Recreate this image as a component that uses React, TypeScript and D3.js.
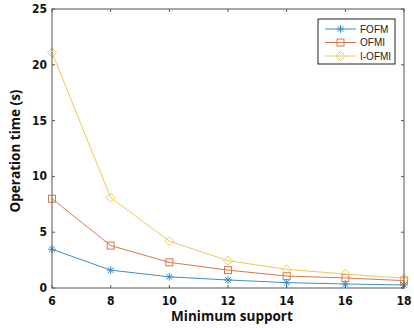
import React from "react";
import * as d3 from "d3";

const support = [6, 8, 10, 12, 14, 16, 18];
const fofm = [3.47, 1.6, 1.0, 0.72, 0.48, 0.36, 0.27];
const ofmi = [8.0, 3.8, 2.3, 1.6, 1.07, 0.9, 0.66];
const iofmi = [21.1, 8.1, 4.2, 2.45, 1.67, 1.25, 0.87];
const xTicks = [6, 8, 10, 12, 14, 16, 18];
const yTicks = [0, 5, 10, 15, 20, 25];
const seriesNames = ["FOFM", "OFMI", "I-OFMI"];

const W = 414, H = 328;
const M = { left: 52, right: 10, top: 9, bottom: 40 };

function Marker({ kind, x, y, color }: { kind: number; x: number; y: number; color: string }) {
  if (kind === 0) {
    const r = 4;
    const d = r * 0.72;
    return (
      <g stroke={color} strokeWidth={1} fill="none">
        <line x1={x - r} y1={y} x2={x + r} y2={y} />
        <line x1={x} y1={y - r} x2={x} y2={y + r} />
        <line x1={x - d} y1={y - d} x2={x + d} y2={y + d} />
        <line x1={x - d} y1={y + d} x2={x + d} y2={y - d} />
      </g>
    );
  }
  if (kind === 1) {
    const s = 3.5;
    return <rect x={x - s} y={y - s} width={2 * s} height={2 * s} stroke={color} strokeWidth={1} fill="none" />;
  }
  const r = 4.5;
  return (
    <path
      d={`M${x},${y - r}L${x + r},${y}L${x},${y + r}L${x - r},${y}Z`}
      stroke={color}
      strokeWidth={1}
      fill="none"
    />
  );
}

export default function App() {
  const x = d3.scaleLinear().domain([6, 18]).range([M.left, W - M.right]);
  const y = d3.scaleLinear().domain([0, 25]).range([H - M.bottom, M.top]);
  const colors = ["#3d8fcc", "#d9784a", "#f0c95a"];
  const data = [fofm, ofmi, iofmi];
  const line = d3
    .line<number>()
    .x((_, i) => x(support[i]))
    .y((d) => y(d));
  const x0 = x(6), x1 = x(18), y0 = y(0), y1 = y(25);
  const axisColor = "#555";
  const tickFont = "'Liberation Sans Narrow', 'DejaVu Sans Condensed', Arial, sans-serif";
  const titleFont = "'Open Sans', 'DejaVu Sans', sans-serif";
  const lg = { x: 318, y: 19, w: 77, h: 45 };
  return (
    <svg width={W} height={H} style={{ position: "absolute", left: 0, top: 0, background: "#fff" }}>
      <rect x={0} y={0} width={W} height={H} fill="#fff" />
      {data.map((s, k) => (
        <g key={k}>
          <path d={line(s) || ""} fill="none" stroke={colors[k]} strokeWidth={1} />
          {s.map((v, i) => (
            <Marker key={i} kind={k} x={x(support[i])} y={y(v)} color={colors[k]} />
          ))}
        </g>
      ))}
      <rect x={x0} y={y1} width={x1 - x0} height={y0 - y1} fill="none" stroke={axisColor} strokeWidth={1} />
      {xTicks.map((t) => (
        <g key={"x" + t}>
          <line x1={x(t)} y1={y0} x2={x(t)} y2={y0 - 3} stroke={axisColor} />
          <line x1={x(t)} y1={y1} x2={x(t)} y2={y1 + 3} stroke={axisColor} />
          <text
            x={x(t)}
            y={y0 + 17}
            textAnchor="middle"
            fontFamily={tickFont}
            fontWeight="bold"
            fontSize={12}
            fill="#111"
          >
            {t}
          </text>
        </g>
      ))}
      {yTicks.map((t) => (
        <g key={"y" + t}>
          <line x1={x0} y1={y(t)} x2={x0 + 3} y2={y(t)} stroke={axisColor} />
          <line x1={x1} y1={y(t)} x2={x1 - 3} y2={y(t)} stroke={axisColor} />
          <text
            x={x0 - 5}
            y={y(t) + 4}
            textAnchor="end"
            fontFamily={tickFont}
            fontWeight="bold"
            fontSize={12}
            fill="#111"
          >
            {t}
          </text>
        </g>
      ))}
      <text
        x={232}
        y={321}
        textAnchor="middle"
        fontFamily={titleFont}
        fontWeight="bold"
        fontSize={13.5}
        fill="#111"
      >
        Minimum support
      </text>
      <text
        transform={`translate(20,${151}) rotate(-90)`}
        textAnchor="middle"
        fontFamily={titleFont}
        fontWeight="bold"
        fontSize={13.5}
        fill="#111"
      >
        Operation time (s)
      </text>
      <rect x={lg.x} y={lg.y} width={lg.w} height={lg.h} fill="#fff" stroke="#222" strokeWidth={1} />
      {seriesNames.map((n, k) => {
        const yy = lg.y + 10 + k * 13.5;
        return (
          <g key={n}>
            <line x1={lg.x + 7} y1={yy} x2={lg.x + 38} y2={yy} stroke={colors[k]} strokeWidth={1} />
            <Marker kind={k} x={lg.x + 22.5} y={yy} color={colors[k]} />
            <text x={lg.x + 42} y={yy + 3.5} fontFamily="Arial, 'Liberation Sans', sans-serif" fontSize={10} fill="#222">
              {n}
            </text>
          </g>
        );
      })}
    </svg>
  );
}
